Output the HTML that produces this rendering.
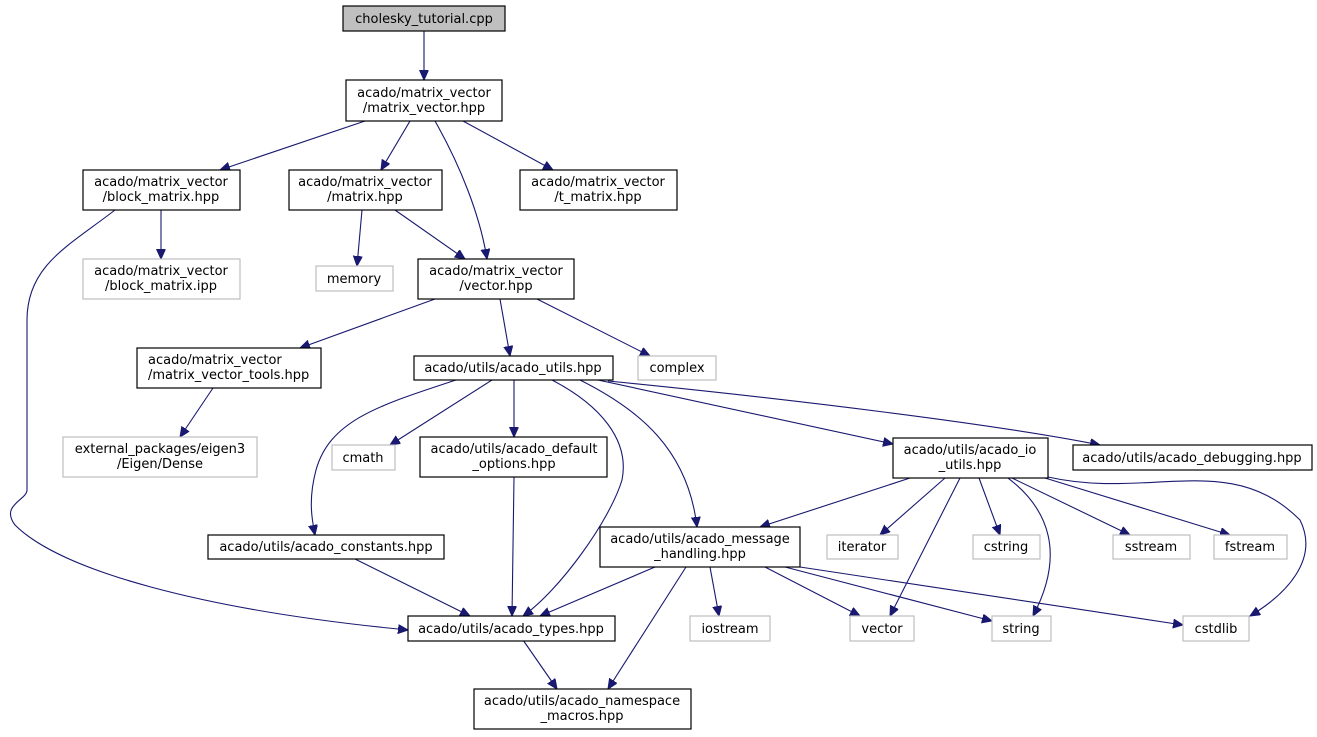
<!DOCTYPE html>
<html><head><meta charset="utf-8"><style>
html,body{margin:0;padding:0;background:#fff;}
svg{display:block;}
text{font-family:"DejaVu Sans","Liberation Sans",sans-serif;font-size:13px;fill:#000;}
.n{fill:#fff;stroke:#000;stroke-width:1.2;}
.g{fill:#fff;stroke:#bfbfbf;stroke-width:1.2;}
.e{fill:none;stroke:#191970;stroke-width:1.1;}
</style></head><body>
<svg width="1317" height="737" viewBox="0 0 1317 737" xmlns="http://www.w3.org/2000/svg">
<defs><marker id="a" markerUnits="userSpaceOnUse" markerWidth="12" markerHeight="10" refX="10" refY="4.5" orient="auto"><path d="M0,0 L10,4.5 L0,9 Z" fill="#191970" stroke="#191970"/></marker></defs>
<g marker-end="url(#a)">
<path class="e" d="M424,31 L424,80"/>
<path class="e" d="M365,121 L220,170"/>
<path class="e" d="M410,121 L381,170"/>
<path class="e" d="M435,121 C460,165 480,215 487,259"/>
<path class="e" d="M463,121 L553,170"/>
<path class="e" d="M161,210 L161,259"/>
<path class="e" d="M115,210 C70,245 27,265 27,320 L27,490 C27,500 0,505 15,525 C60,570 200,610 408,630"/>
<path class="e" d="M362,210 L357,266"/>
<path class="e" d="M395,210 L465,259"/>
<path class="e" d="M435,299 L300,348"/>
<path class="e" d="M500,299 L510,356"/>
<path class="e" d="M537,299 L650,356"/>
<path class="e" d="M213,388 L180,437"/>
<path class="e" d="M492,380 L390,445"/>
<path class="e" d="M514,380 L514,437"/>
<path class="e" d="M456,380 C380,405 330,420 316,470 C308,500 312,520 315,535"/>
<path class="e" d="M552,380 C600,405 630,440 622,480 C610,520 560,590 523,616"/>
<path class="e" d="M580,380 C640,410 688,450 697,527"/>
<path class="e" d="M598,380 L893,444"/>
<path class="e" d="M608,381 C800,400 1000,425 1100,445"/>
<path class="e" d="M514,477 L512,616"/>
<path class="e" d="M355,559 L470,616"/>
<path class="e" d="M910,478 L760,527"/>
<path class="e" d="M945,478 L880,535"/>
<path class="e" d="M960,478 L890,616"/>
<path class="e" d="M979,478 L1000,535"/>
<path class="e" d="M1008,478 C1050,510 1065,555 1033,616"/>
<path class="e" d="M1012,478 L1130,535"/>
<path class="e" d="M1045,478 L1230,535"/>
<path class="e" d="M1048,477 C1150,500 1230,450 1300,520 C1320,560 1285,595 1250,616"/>
<path class="e" d="M655,567 L540,616"/>
<path class="e" d="M686,567 L608,689"/>
<path class="e" d="M710,567 L719,616"/>
<path class="e" d="M765,567 L860,616"/>
<path class="e" d="M785,567 L992,621"/>
<path class="e" d="M800,567 L1183,625"/>
<path class="e" d="M523,640 L557,689"/>
</g>
<rect x="343" y="6" width="162" height="25" fill="#bfbfbf" stroke="#000" stroke-width="1.2"/>
<text x="424" y="23" text-anchor="middle">cholesky_tutorial.cpp</text>
<rect class="n" x="346" y="80" width="156" height="41"/>
<text x="424" y="97" text-anchor="middle">acado/matrix_vector</text><text x="424" y="112" text-anchor="middle">/matrix_vector.hpp</text>
<rect class="n" x="83" y="170" width="157" height="40"/>
<text x="161" y="186" text-anchor="middle">acado/matrix_vector</text><text x="161" y="201" text-anchor="middle">/block_matrix.hpp</text>
<rect class="n" x="289" y="170" width="153" height="40"/>
<text x="365" y="186" text-anchor="middle">acado/matrix_vector</text><text x="365" y="201" text-anchor="middle">/matrix.hpp</text>
<rect class="n" x="520" y="170" width="157" height="40"/>
<text x="598" y="186" text-anchor="middle">acado/matrix_vector</text><text x="598" y="201" text-anchor="middle">/t_matrix.hpp</text>
<rect class="g" x="83" y="259" width="157" height="40"/>
<text x="161" y="275" text-anchor="middle">acado/matrix_vector</text><text x="161" y="290" text-anchor="middle">/block_matrix.ipp</text>
<rect class="g" x="316" y="266" width="77" height="25"/>
<text x="354" y="283" text-anchor="middle">memory</text>
<rect class="n" x="418" y="259" width="156" height="40"/>
<text x="496" y="275" text-anchor="middle">acado/matrix_vector</text><text x="496" y="290" text-anchor="middle">/vector.hpp</text>
<rect class="n" x="137" y="348" width="184" height="40"/>
<text x="148" y="364">acado/matrix_vector</text><text x="148" y="379">/matrix_vector_tools.hpp</text>
<rect class="n" x="414" y="356" width="199" height="24"/>
<text x="513" y="372" text-anchor="middle">acado/utils/acado_utils.hpp</text>
<rect class="g" x="638" y="356" width="78" height="24"/>
<text x="677" y="372" text-anchor="middle">complex</text>
<rect class="g" x="63" y="437" width="194" height="40"/>
<text x="160" y="453" text-anchor="middle">external_packages/eigen3</text><text x="160" y="468" text-anchor="middle">/Eigen/Dense</text>
<rect class="g" x="332" y="445" width="63" height="25"/>
<text x="363" y="462" text-anchor="middle">cmath</text>
<rect class="n" x="420" y="437" width="187" height="40"/>
<text x="514" y="453" text-anchor="middle">acado/utils/acado_default</text><text x="514" y="468" text-anchor="middle">_options.hpp</text>
<rect class="n" x="893" y="438" width="155" height="40"/>
<text x="970" y="454" text-anchor="middle">acado/utils/acado_io</text><text x="970" y="469" text-anchor="middle">_utils.hpp</text>
<rect class="n" x="1073" y="445" width="239" height="25"/>
<text x="1192" y="462" text-anchor="middle">acado/utils/acado_debugging.hpp</text>
<rect class="n" x="208" y="535" width="236" height="24"/>
<text x="326" y="551" text-anchor="middle">acado/utils/acado_constants.hpp</text>
<rect class="n" x="600" y="527" width="200" height="40"/>
<text x="700" y="543" text-anchor="middle">acado/utils/acado_message</text><text x="700" y="558" text-anchor="middle">_handling.hpp</text>
<rect class="g" x="827" y="535" width="71" height="24"/>
<text x="862" y="551" text-anchor="middle">iterator</text>
<rect class="g" x="973" y="535" width="67" height="24"/>
<text x="1006" y="551" text-anchor="middle">cstring</text>
<rect class="g" x="1113" y="535" width="77" height="24"/>
<text x="1151" y="551" text-anchor="middle">sstream</text>
<rect class="g" x="1214" y="535" width="73" height="24"/>
<text x="1250" y="551" text-anchor="middle">fstream</text>
<rect class="n" x="408" y="616" width="207" height="25"/>
<text x="511" y="633" text-anchor="middle">acado/utils/acado_types.hpp</text>
<rect class="g" x="690" y="616" width="80" height="25"/>
<text x="730" y="633" text-anchor="middle">iostream</text>
<rect class="g" x="850" y="616" width="64" height="25"/>
<text x="882" y="633" text-anchor="middle">vector</text>
<rect class="g" x="992" y="616" width="59" height="25"/>
<text x="1021" y="633" text-anchor="middle">string</text>
<rect class="g" x="1183" y="616" width="66" height="25"/>
<text x="1216" y="633" text-anchor="middle">cstdlib</text>
<rect class="n" x="474" y="689" width="217" height="40"/>
<text x="582" y="705" text-anchor="middle">acado/utils/acado_namespace</text><text x="582" y="720" text-anchor="middle">_macros.hpp</text>
</svg>
</body></html>
